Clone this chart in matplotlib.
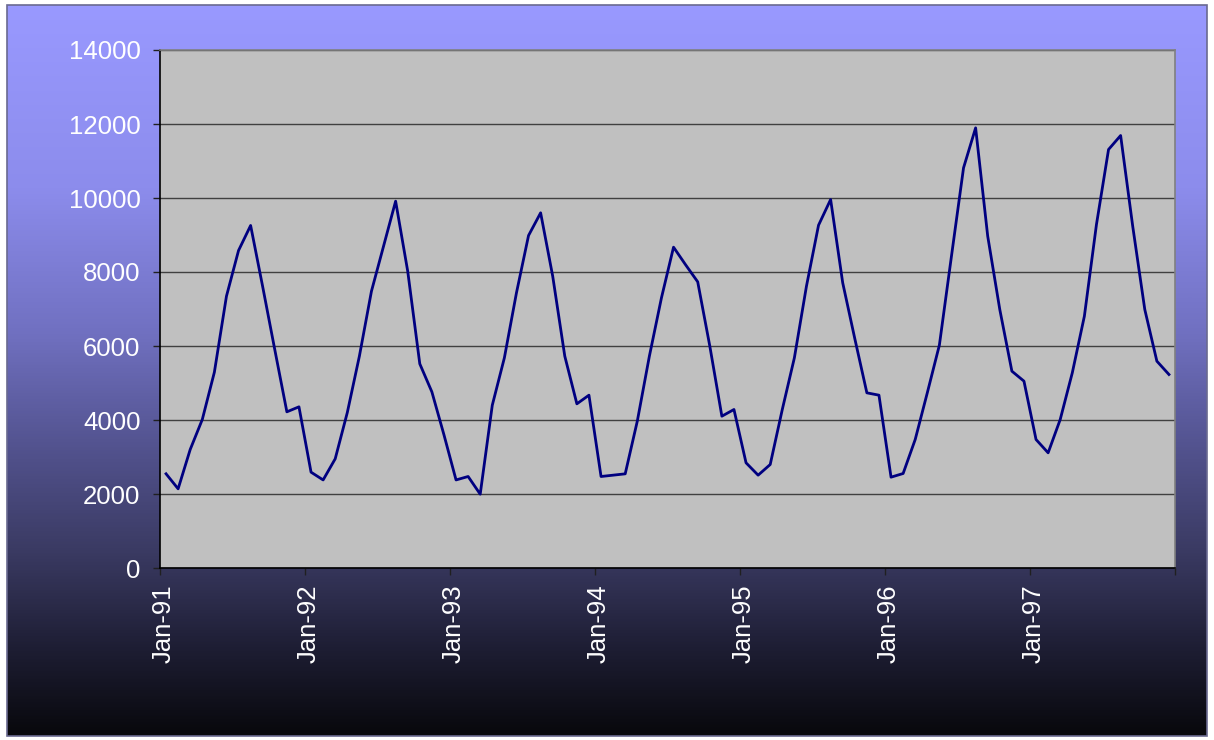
import numpy as np
import matplotlib
matplotlib.use('Agg')
import matplotlib.pyplot as plt
import matplotlib.transforms as mtransforms
from matplotlib.colors import LinearSegmentedColormap
from matplotlib.patches import Rectangle

# monthly values, Jan-91 .. Dec-97
y1991 = [2546, 2140, 3203, 4013, 5292, 7346, 8581, 9257, 7600, 5900, 4221, 4356]
y1992 = [2590, 2380, 2951, 4200, 5724, 7481, 8697, 9914, 8022, 5518, 4760, 3600]
y1993 = [2380, 2473, 1995, 4400, 5680, 7437, 8986, 9599, 7887, 5725, 4437, 4671]
y1994 = [2473, 2509, 2545, 3968, 5725, 7302, 8671, 8194, 7734, 6000, 4103, 4284]
y1995 = [2843, 2509, 2797, 4284, 5680, 7617, 9265, 9959, 7708, 6200, 4734, 4671]
y1996 = [2455, 2554, 3473, 4734, 6023, 8428, 10815, 11896, 8969, 6986, 5320, 5050]
y1997 = [3473, 3113, 4013, 5275, 6806, 9284, 11311, 11689, 9238, 6986, 5590, 5230]

year_labels = ['Jan-91', 'Jan-92', 'Jan-93', 'Jan-94', 'Jan-95', 'Jan-96', 'Jan-97']
y_ticks = [0, 2000, 4000, 6000, 8000, 10000, 12000, 14000]

values = y1991 + y1992 + y1993 + y1994 + y1995 + y1996 + y1997
n = len(values)

plt.rcParams['font.family'] = ['Liberation Sans', 'DejaVu Sans']

W, H = 1214, 740
fig = plt.figure(figsize=(W / 100, H / 100), dpi=100, facecolor='white')

# gradient background (periwinkle -> black)
bg = fig.add_axes([7 / W, 4 / H, 1200 / W, 731 / H])
cmap = LinearSegmentedColormap.from_list('bg', [
    (0.00, '#9999FF'),
    (0.25, '#8C8CEC'),
    (0.45, '#7070C0'),
    (0.62, '#50508A'),
    (0.75, '#3A3A62'),
    (0.88, '#1E1E34'),
    (1.00, '#08080C'),
])
grad = np.linspace(0, 1, 512).reshape(-1, 1)
bg.imshow(grad, aspect='auto', cmap=cmap, extent=[0, 1, 0, 1], origin='upper')
bg.set_xlim(0, 1)
bg.set_ylim(0, 1)
bg.axis('off')
bg.add_patch(Rectangle((0, 0), 1, 1, transform=bg.transAxes, fill=False,
                       edgecolor='#6A6A90', linewidth=1.2, clip_on=False))

# plot area
ax = fig.add_axes([160 / W, (H - 568) / H, 1015 / W, 518 / H])
ax.set_facecolor('#C0C0C0')

x = np.arange(n) + 0.5
ax.plot(x, values, color='#000080', linewidth=2.0)

ax.set_xlim(0, n)
ax.set_ylim(0, 14000)
ax.set_yticks(y_ticks)
ax.set_yticklabels([str(v) for v in y_ticks])
ax.set_xticks(np.arange(0, n + 1, 12))
ax.set_xticklabels(year_labels + [''], rotation=90)

ax.grid(axis='y', color='#404040', linewidth=1.0)
ax.set_axisbelow(True)

ax.tick_params(axis='both', direction='out', length=5, width=1, color='#202020',
               labelcolor='white', labelsize=18.5)
ax.tick_params(axis='y', pad=9)
ax.tick_params(axis='x', pad=7)

# nudge the rotated year labels a little to the right, like the original
shift = mtransforms.ScaledTranslation(4 / 100, 0, fig.dpi_scale_trans)
for lab in ax.get_xticklabels():
    lab.set_transform(lab.get_transform() + shift)

for side in ['left', 'bottom']:
    ax.spines[side].set_color('black')
    ax.spines[side].set_linewidth(1.2)
for side in ['top', 'right']:
    ax.spines[side].set_color('#808080')
    ax.spines[side].set_linewidth(1.2)

plt.savefig('out.png', dpi=100, facecolor='white')
plt.close()
